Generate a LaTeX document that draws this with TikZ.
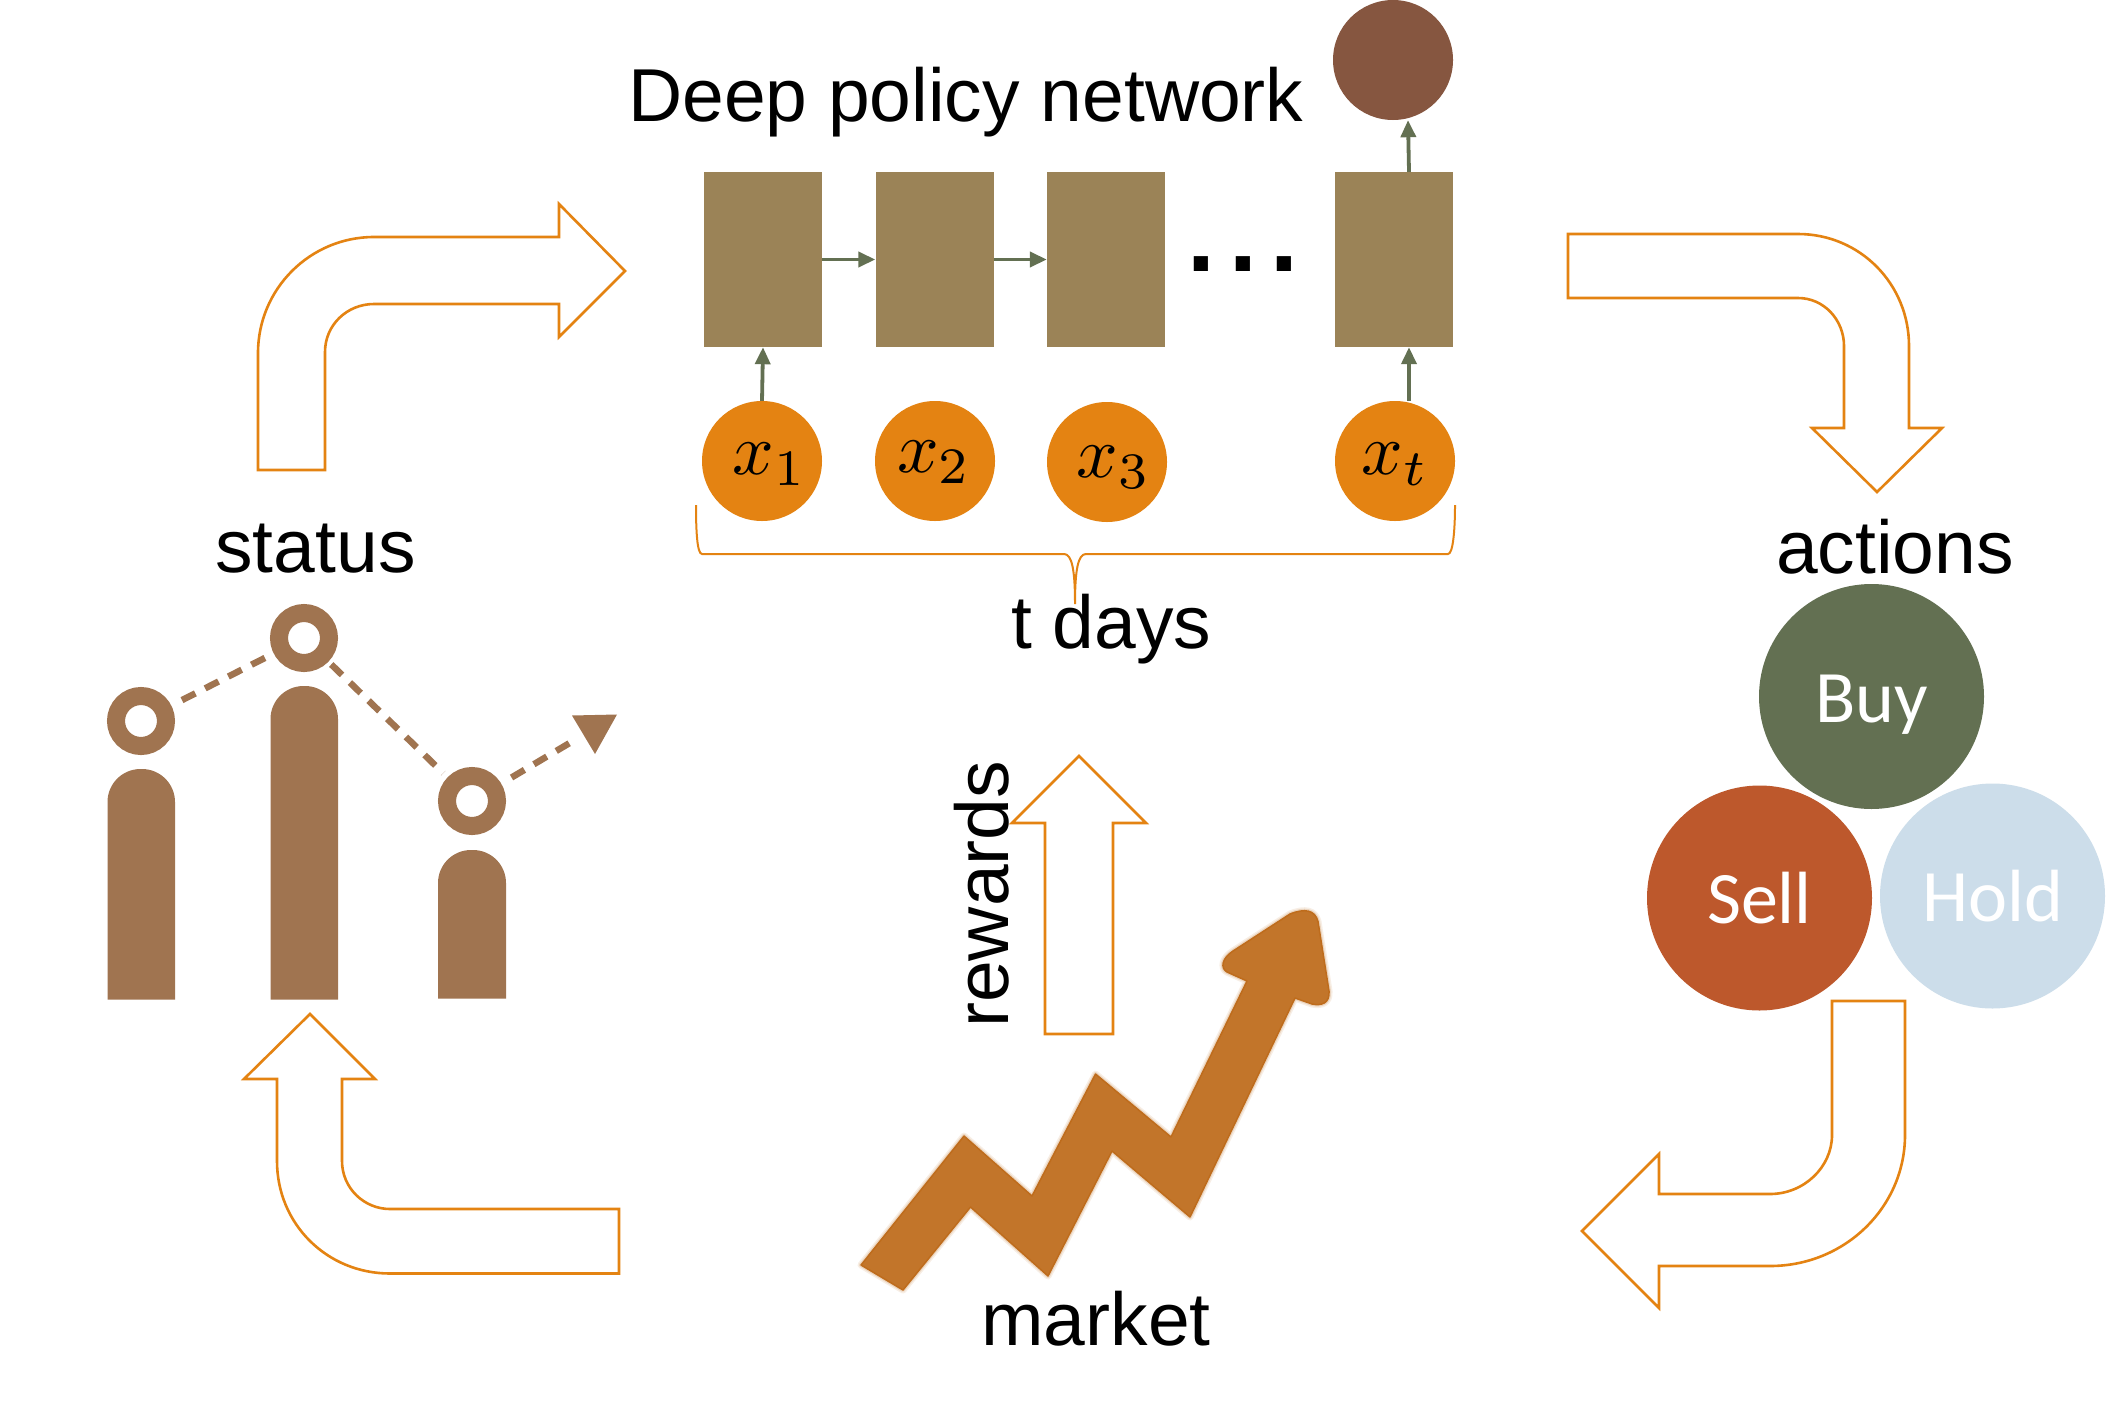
\documentclass[tikz,border=0pt]{standalone}
\usepackage{fontspec}
\setmainfont{Liberation Sans}
\newfontfamily\btnfont{Carlito}
\usetikzlibrary{arrows.meta}
\definecolor{ora}{HTML}{E48312}
\definecolor{cell}{HTML}{9B8357}
\definecolor{outc}{HTML}{865640}
\definecolor{grn}{HTML}{637052}
\definecolor{sellc}{HTML}{BD582C}
\definecolor{holdc}{HTML}{CCDDEA}
\definecolor{barc}{HTML}{A07450}
\definecolor{mkt}{HTML}{C2752A}
\definecolor{mktedge}{HTML}{BE6C1C}
\newcommand{\mktpath}{(861,1265) -- (964,1136) -- (1032,1196) -- (1095.5,1074) -- (1171,1137) -- (1247,981) -- (1227,972)
  .. controls (1220,968) and (1222,958) .. (1233,951) -- (1290,914) .. controls (1305,908) and (1315,910) .. (1318,921.5)
  -- (1329,991) .. controls (1330,1003) and (1322,1006) .. (1312,1004) -- (1295,998) -- (1190,1217) -- (1112,1151) -- (1048,1276) -- (970.5,1207) -- (903,1290) -- cycle}
\tikzset{
  cellbox/.style={rectangle,fill=cell,minimum width=118pt,minimum height=175pt,inner sep=0pt},
  inbub/.style={circle,fill=ora,minimum size=120pt,inner sep=0pt},
  outbub/.style={circle,fill=outc,minimum size=120pt,inner sep=0pt},
  mathlab/.style={inner sep=0pt},
  flow/.style={draw=grn,line width=3.8pt,-{Triangle[width=15pt,length=17pt]}},
  hollow/.style={draw=ora,line width=2.6pt,fill=white,line join=miter},
  capt/.style={inner sep=0pt,anchor=base,font=\fontsize{75}{75}\selectfont,text=black},
  act/.style={circle,minimum size=225pt,inner sep=0pt,text=white,text height=51pt,text depth=0pt,font=\btnfont\fontsize{74}{74}\selectfont},
  ring/.style={circle,draw=barc,line width=18pt,fill=white,minimum size=50pt,inner sep=0pt},
  dashline/.style={draw=barc,line width=6.5pt,dash pattern=on 15pt off 11pt},
}
\begin{document}
\begin{tikzpicture}[x=1pt,y=-1pt]
\useasboundingbox (0,0) rectangle (2109,1408);
\fill[white] (0,0) rectangle (2109,1408);

% recurrent cells
\node[cellbox] (r1) at (763,259.5) {};
\node[cellbox] (r2) at (934.5,259.5) {};
\node[cellbox] (r3) at (1106,259.5) {};
\node[cellbox] (r4) at (1394,259.5) {};
% input bubbles
\node[inbub] (x1) at (762,461) {};
\node[inbub] (x2) at (935,461) {};
\node[inbub] (x3) at (1107,462) {};
\node[inbub] (xt) at (1395,461) {};
\node[outbub] (out) at (1393,60) {};
\node[mathlab] (l1) at (770,464) {\scalebox{7.3}{$x_1$}};
\node[mathlab] (l2) at (934.5,462) {\scalebox{7.3}{$x_2$}};
\node[mathlab] (l3) at (1114,467) {\scalebox{7.3}{$x_3$}};
\node[mathlab] (l4) at (1395,464) {\scalebox{7.3}{$x_t$}};
% connectors
\draw[flow] (x1.north) -- (r1.south);
\draw[flow] (r1.east) -- (r2.west);
\draw[flow] (r2.east) -- (r3.west);
\draw[flow] ([xshift=14pt]xt.north) -- ([xshift=15pt]r4.south);
\draw[flow] ([xshift=15pt]r4.north) -- ([xshift=15pt]out.south);
% dots
\node[inner sep=0pt,anchor=base] (dots) at (1243,271) {\fontsize{100}{100}\bfseries\selectfont .\hspace{14pt}.\hspace{14pt}.};

% brace
\draw[ora,line width=2pt] (696,505) .. controls (696,530) and (697,554) .. (702,554) -- (1064,554)
  .. controls (1072,554) and (1075,570) .. (1075,604)
  .. controls (1075,570) and (1078,554) .. (1086,554) -- (1448,554)
  .. controls (1453,554) and (1455,530) .. (1455,505);

% captions
\node[capt,anchor=base west] (title) at (628,121) {Deep policy network};
\node[capt,anchor=base west] (days) at (1011,648) {t days};
\node[capt] (status) at (315.5,572) {status};
\node[capt] (actions) at (1895,573) {actions};
\node[capt] (market) at (1096,1345) {market};

% hollow arrows
\draw[hollow] (258,470) -- (258,353) .. controls (258,289) and (310,237) .. (374,237) -- (559,237) -- (559,204) -- (625,271) -- (559,337) -- (559,304) -- (374,304) .. controls (347,304) and (325,325) .. (325,352) -- (325,470) -- cycle;
\draw[hollow] (1568,234) -- (1798,234) .. controls (1860,234) and (1909,284) .. (1909,346) -- (1909,428) -- (1942,428) -- (1877,492) -- (1812,428) -- (1844,428) -- (1844,346) .. controls (1844,320) and (1824,298) .. (1798,298) -- (1568,298) -- cycle;
\draw[hollow] (1832,1001) -- (1905,1001) -- (1905,1135) .. controls (1905,1207) and (1845,1266) .. (1770,1266) -- (1659,1266) -- (1659,1308) -- (1582,1231) -- (1659,1154) -- (1659,1194) -- (1770,1194) .. controls (1804,1194) and (1832,1167) .. (1832,1135) -- cycle;
\draw[hollow] (619,1273.5) -- (390,1273.5) .. controls (327,1273.5) and (277,1224) .. (277,1161) -- (277,1079) -- (244,1079) -- (310,1014) -- (375,1079) -- (342,1079) -- (342,1161) .. controls (342,1188) and (364,1209) .. (390,1209) -- (619,1209) -- cycle;
\draw[hollow] (1045,1034) -- (1045,823) -- (1012,823) -- (1079,756) -- (1146,823) -- (1113,823) -- (1113,1034) -- cycle;
\node[capt,anchor=base west,rotate=90] (rewards) at (1008,1028) {rewards};

% action bubbles
\node[act,fill=grn] (buy) at (1871.5,696.5) {Buy};
\node[act,fill=sellc] (sell) at (1759.5,898) {Sell};
\node[act,fill=holdc] (hold) at (1992.5,896) {Hold};

% bar icon
\fill[barc] (107.5,999.5) [rounded corners=33pt] -- (107.5,769) -- (175,769) [sharp corners] -- (175,999.5) -- cycle;
\fill[barc] (270.5,999.5) [rounded corners=33pt] -- (270.5,686) -- (338,686) [sharp corners] -- (338,999.5) -- cycle;
\fill[barc] (438,998.5) [rounded corners=33pt] -- (438,850) -- (506,850) [sharp corners] -- (506,998.5) -- cycle;
\node[ring] (c1) at (141,721) {};
\node[ring] (c2) at (304,638) {};
\node[ring] (c3) at (472,801) {};
\coordinate (tipend) at (573,741);
\draw[dashline,shorten <=46pt,shorten >=40pt] (c1.center) -- (c2.center);
\draw[dashline,shorten <=38pt,shorten >=40pt] (c2.center) -- (c3.center);
\draw[dashline,shorten <=46pt] (c3.center) -- (tipend);
\fill[barc] (572,715.5) -- (617,714.5) -- (595,754) -- cycle;

% market arrow: soft halo, then body
\draw[mkt,line width=7pt,line join=round,opacity=.12] \mktpath;
\draw[mkt,line width=4pt,line join=round,opacity=.2] \mktpath;
\draw[mktedge,line width=1.5pt,fill=mkt,line join=round] \mktpath;
\end{tikzpicture}
\end{document}
